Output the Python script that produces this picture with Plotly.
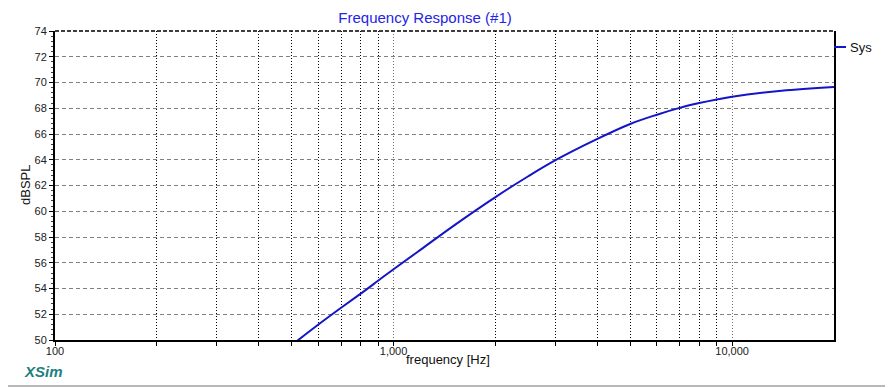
import plotly.graph_objects as go

# Data
freq_hz = [500, 600, 700, 800, 900, 1000, 1200, 1500, 2000, 2500, 3000, 4000, 5000,
           6000, 7000, 8000, 9000, 10000, 14000, 20000]
spl_db = [49.6, 51.2, 52.5, 53.6, 54.6, 55.5, 57.0, 58.85, 61.1, 62.72, 63.95, 65.62, 66.78,
          67.5, 68.03, 68.4, 68.68, 68.9, 69.36, 69.65]

x_major_ticks = [100, 1000, 10000]
x_major_labels = ["100", "1,000", "10,000"]
x_minor_ticks = [200, 300, 400, 500, 600, 700, 800, 900,
                 2000, 3000, 4000, 5000, 6000, 7000, 8000, 9000]
y_ticks = list(range(50, 76, 2))

series_name = "Sys"
x_title = "frequency [Hz]"
y_title = "dBSPL"
line_color = "#1414c8"

fig = go.Figure()
fig.add_trace(go.Scatter(
    x=freq_hz, y=spl_db, mode="lines", name=series_name,
    line=dict(color=line_color, width=2, shape="spline", smoothing=1.0),
    showlegend=False,
))

font_family = "Liberation Sans, Arial, sans-serif"

# page body has an 8px margin: the figure is drawn offset by (8, 8)
W, H = 885, 380
PW, PH = 779, 309


def px_x(wx):
    return (wx - 55) / PW


def px_y(wy):
    return (340 - wy) / PH


fig.update_layout(
    width=W, height=H,
    margin=dict(l=47, r=59, t=23, b=48),
    paper_bgcolor="white", plot_bgcolor="white",
    font=dict(family=font_family, size=11, color="#202020"),
    title=dict(text="Frequency Response (#1)", x=0.475, xref="paper", xanchor="center",
               y=1 - 9.5 / H, yref="container", yanchor="middle",
               font=dict(family=font_family, size=15, color="#2424e6")),
    xaxis=dict(
        type="log", range=[2, 4.30103],
        tickmode="array", tickvals=x_major_ticks, ticktext=x_major_labels,
        ticks="outside", ticklen=4, tickcolor="black", tickwidth=1,
        ticklabelstandoff=-4,
        showgrid=True, gridcolor="#707070", griddash="1px,2px", gridwidth=1,
        showline=True, linecolor="black", linewidth=2,
        minor=dict(tickmode="array", tickvals=x_minor_ticks, ticks="outside", ticklen=4,
                   tickcolor="black", showgrid=True, gridcolor="black",
                   griddash="1px,2px", gridwidth=1),
        tickfont=dict(size=11, color="#202020"),
        zeroline=False,
    ),
    yaxis=dict(
        range=[50, 74], tickmode="array", tickvals=y_ticks,
        ticks="outside", ticklen=4, tickcolor="black",
        showgrid=True, gridcolor="#808080", griddash="4px,3px", gridwidth=1,
        showline=True, linecolor="black", linewidth=2, mirror=True,
        minor=dict(dtick=0.4, ticks="outside", ticklen=2, tickcolor="#404040", showgrid=False),
        tickfont=dict(size=11, color="#202020"),
        zeroline=False,
    ),
    shapes=[
        # top frame (dashed)
        dict(type="line", xref="paper", yref="paper", x0=0, x1=1, y0=1, y1=1,
             line=dict(color="black", width=1.5, dash="4px,2px")),
        # legend symbol
        dict(type="line", xref="paper", yref="paper", x0=1.0, x1=px_x(846),
             y0=px_y(47), y1=px_y(47), line=dict(color=line_color, width=2)),
        # window border (right and bottom)
        dict(type="line", xref="paper", yref="paper", x0=px_x(890.5), x1=px_x(890.5),
             y0=px_y(386), y1=px_y(0), line=dict(color="#a0a0a0", width=1.5)),
        dict(type="line", xref="paper", yref="paper", x0=px_x(0), x1=px_x(890.5),
             y0=px_y(386), y1=px_y(386), line=dict(color="#a0a0a0", width=1.5)),
    ],
    annotations=[
        dict(text=series_name, xref="paper", yref="paper", x=px_x(848), y=px_y(47),
             xanchor="left", yanchor="middle", showarrow=False,
             font=dict(family=font_family, size=13, color="#101010")),
        dict(text=x_title, xref="paper", yref="paper", x=px_x(448), y=px_y(359),
             xanchor="center", yanchor="middle", showarrow=False,
             font=dict(family=font_family, size=13, color="#101010")),
        dict(text=y_title, xref="paper", yref="paper", x=px_x(25.5), y=px_y(185.5),
             xanchor="center", yanchor="middle", showarrow=False, textangle=-90,
             font=dict(family=font_family, size=13, color="#101010")),
        dict(text="<b><i>XSim</i></b>", xref="paper", yref="paper",
             x=px_x(22), y=px_y(371), xanchor="left", yanchor="middle",
             showarrow=False, font=dict(family=font_family, size=15, color="#1e7f7f")),
    ],
)

fig.write_html("out.html")
